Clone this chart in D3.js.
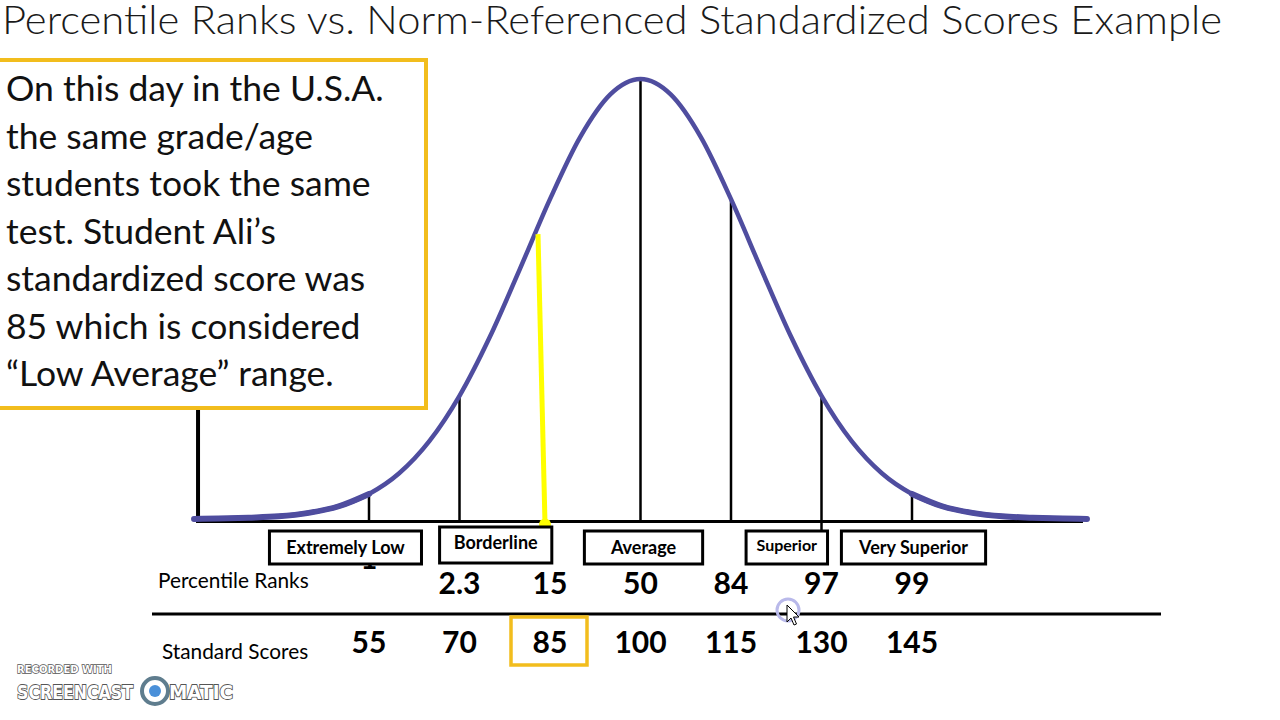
<!DOCTYPE html>
<html>
<head>
<meta charset="utf-8">
<script src="https://cdn.jsdelivr.net/npm/d3@7"></script>
<style>
  body { margin: 0; background: #fff; }
  svg { display: block; }
</style>
</head>
<body>
<div id="chart"></div>
<script>
const titleText = "Percentile Ranks vs. Norm-Referenced Standardized Scores Example";
const noteLines = [
  "On this day in the U.S.A.",
  "the same grade/age",
  "students took the same",
  "test. Student Ali\u2019s",
  "standardized score was",
  "85 which is considered",
  "\u201CLow Average\u201D range."
];
const standardScores = [55, 70, 85, 100, 115, 130, 145];
const percentileRanks = ["1", "2.3", "15", "50", "84", "97", "99"];
// bell curve: score -> height in % of the peak
const curveScores = [26, 30, 35, 40, 45, 50, 55, 60, 65, 70, 75, 80, 85, 90, 95, 100,
  105, 110, 115, 120, 125, 130, 135, 140, 145, 150, 155, 160, 165, 170, 174];
const curveHeights = [0, 0.1, 0.3, 0.6, 1.4, 2.9, 5.7, 10.4, 17.7, 28, 41.3, 56.8, 72.7, 86.8, 96.5, 100,
  96.5, 86.8, 72.7, 56.8, 41.3, 28, 17.7, 10.4, 5.7, 2.9, 1.4, 0.6, 0.3, 0.1, 0];
const categories = ["Extremely Low", "Borderline", "Average", "Superior", "Very Superior"];
const categoryFrom = [38.5, 66.7, 90.7, 117.5, 133.3];
const categoryTo = [63.7, 85.3, 110.3, 131, 157.2];
const studentScore = 85;

const width = 1280;
const height = 720;
const gold = "#f2bd1d";
const curveColor = "#4f4d9f";
const font = "Lato, 'Open Sans', sans-serif";

const svg = d3
  .select("#chart")
  .append("svg")
  .attr("width", width)
  .attr("height", height)
  .style("font-family", font);

const xScale = d3.scaleLinear().domain([55, 145]).range([369, 912]);
const yScale = d3.scaleLinear().domain([0, 100]).range([519, 79]);
const baseY = 521.5;

// title
svg
  .append("text")
  .attr("x", 2)
  .attr("y", 34)
  .attr("font-size", 40)
  .attr("font-weight", 300)
  .attr("fill", "#1a1a1a")
  .attr("textLength", 1220)
  .attr("lengthAdjust", "spacingAndGlyphs")
  .text(titleText);

// left wall of the graph
svg
  .append("line")
  .attr("x1", xScale(curveScores[0]) + 4)
  .attr("x2", xScale(curveScores[0]) + 4)
  .attr("y1", 405)
  .attr("y2", baseY + 1)
  .attr("stroke", "#000")
  .attr("stroke-width", 4);

// baseline
svg
  .append("line")
  .attr("x1", xScale(curveScores[0]) + 2)
  .attr("x2", xScale(curveScores[curveScores.length - 1]) - 4)
  .attr("y1", baseY)
  .attr("y2", baseY)
  .attr("stroke", "#000")
  .attr("stroke-width", 3);

const points = curveScores.map((s, i) => ({ score: s, h: curveHeights[i] }));
const heightAt = (s) => curveHeights[curveScores.indexOf(s)];

// marker lines under the curve
svg
  .selectAll(".marker")
  .data(standardScores.filter((s) => s !== studentScore))
  .join("line")
  .attr("class", "marker")
  .attr("x1", (d) => xScale(d))
  .attr("x2", (d) => xScale(d))
  .attr("y1", (d) => yScale(heightAt(d)))
  .attr("y2", (d) => (d === 130 ? 563 : baseY))
  .attr("stroke", "#000")
  .attr("stroke-width", 2.5);

// bell curve
const line = d3
  .line()
  .x((d) => xScale(d.score))
  .y((d) => yScale(d.h))
  .curve(d3.curveMonotoneX);

svg
  .append("path")
  .datum(points.slice(0, 7))
  .attr("fill", "none")
  .attr("stroke", curveColor)
  .attr("stroke-width", 6)
  .attr("stroke-linecap", "round")
  .attr("d", line);

svg
  .append("path")
  .datum(points.slice(points.length - 7))
  .attr("fill", "none")
  .attr("stroke", curveColor)
  .attr("stroke-width", 6)
  .attr("stroke-linecap", "round")
  .attr("d", line);

svg
  .append("path")
  .datum(points)
  .attr("fill", "none")
  .attr("stroke", curveColor)
  .attr("stroke-width", 4.5)
  .attr("stroke-linejoin", "round")
  .attr("d", line);

// the student's score
svg
  .append("line")
  .attr("x1", xScale(studentScore) - 12)
  .attr("x2", xScale(studentScore) - 5)
  .attr("y1", yScale(heightAt(studentScore)) + 35)
  .attr("y2", baseY + 2)
  .attr("stroke", "#ffff00")
  .attr("stroke-width", 5);

svg
  .append("circle")
  .attr("cx", xScale(studentScore) - 5)
  .attr("cy", baseY + 3)
  .attr("r", 6)
  .attr("fill", "#ffff00");

// percentile rank "1" partly hidden behind its box
svg
  .append("text")
  .attr("x", xScale(standardScores[0]))
  .attr("y", 569)
  .attr("text-anchor", "middle")
  .attr("font-size", 29)
  .attr("font-weight", 700)
  .text(percentileRanks[0]);

// category boxes
const boxes = svg
  .selectAll(".cat")
  .data(categories)
  .join("g")
  .attr("class", "cat");

boxes
  .append("rect")
  .attr("x", (d, i) => xScale(categoryFrom[i]))
  .attr("y", (d, i) => (i === 1 ? 527 : 531))
  .attr("width", (d, i) => xScale(categoryTo[i]) - xScale(categoryFrom[i]))
  .attr("height", (d, i) => (i === 1 ? 36 : 33))
  .attr("fill", "#fff")
  .attr("stroke", "#000")
  .attr("stroke-width", 3);

boxes
  .append("text")
  .attr("x", (d, i) => (xScale(categoryFrom[i]) + xScale(categoryTo[i])) / 2)
  .attr("y", (d, i) => (i === 1 ? 549 : i === 3 ? 551 : 554))
  .attr("text-anchor", "middle")
  .attr("font-size", (d, i) => (i === 3 ? 16 : 18))
  .attr("font-weight", 700)
  .text((d) => d);

// rows
svg
  .append("text")
  .attr("x", 158)
  .attr("y", 588)
  .attr("font-size", 20.8)
  .text("Percentile Ranks");

svg
  .append("text")
  .attr("x", 162)
  .attr("y", 659)
  .attr("font-size", 20.8)
  .text("Standard Scores");

svg
  .append("line")
  .attr("x1", 152)
  .attr("x2", 1161)
  .attr("y1", 614)
  .attr("y2", 614)
  .attr("stroke", "#000")
  .attr("stroke-width", 3);

svg
  .selectAll(".pr")
  .data(percentileRanks.slice(1))
  .join("text")
  .attr("class", "pr")
  .attr("x", (d, i) => xScale(standardScores[i + 1]))
  .attr("y", 594)
  .attr("text-anchor", "middle")
  .attr("font-size", 30)
  .attr("font-weight", 700)
  .text((d) => d);

svg
  .selectAll(".ss")
  .data(standardScores)
  .join("text")
  .attr("class", "ss")
  .attr("x", (d) => xScale(d))
  .attr("y", 653)
  .attr("text-anchor", "middle")
  .attr("font-size", 30)
  .attr("font-weight", 700)
  .text((d) => d);

svg
  .append("rect")
  .attr("x", xScale(studentScore) - 39)
  .attr("y", 617)
  .attr("width", 76)
  .attr("height", 48)
  .attr("fill", "none")
  .attr("stroke", gold)
  .attr("stroke-width", 3.5);

// note box
svg
  .append("rect")
  .attr("x", -4)
  .attr("y", 60)
  .attr("width", 430)
  .attr("height", 348)
  .attr("fill", "#fff")
  .attr("stroke", gold)
  .attr("stroke-width", 4);

svg
  .selectAll(".note")
  .data(noteLines)
  .join("text")
  .attr("class", "note")
  .attr("x", 6)
  .attr("y", (d, i) => 101 + i * 47.5)
  .attr("font-size", 35.5)
  .attr("fill", "#111")
  .text((d) => d);

// cursor
svg
  .append("circle")
  .attr("cx", 788)
  .attr("cy", 610)
  .attr("r", 11)
  .attr("fill", "none")
  .attr("stroke", "#b9b9ea")
  .attr("stroke-width", 3);

svg
  .append("path")
  .attr("transform", "translate(787,605)")
  .attr("d", "M0,0 L0,17 L4,13 L7,20 L9.5,19 L6.5,12 L12,12 Z")
  .attr("fill", "#fff")
  .attr("stroke", "#000")
  .attr("stroke-width", 1);

// recording watermark
const wm = svg.append("g").attr("font-family", "'DejaVu Sans', sans-serif").attr("font-weight", 700);
wm.append("text")
  .attr("x", 17)
  .attr("y", 673)
  .attr("font-size", 10.5)
  .attr("fill", "#fff")
  .attr("stroke", "#555")
  .attr("stroke-width", 1.4)
  .attr("paint-order", "stroke")
  .attr("textLength", 95)
  .attr("lengthAdjust", "spacingAndGlyphs")
  .text("RECORDED WITH");
wm.append("text")
  .attr("x", 17)
  .attr("y", 699)
  .attr("font-size", 19)
  .attr("fill", "#fff")
  .attr("stroke", "#555")
  .attr("stroke-width", 1.8)
  .attr("paint-order", "stroke")
  .attr("textLength", 116)
  .attr("lengthAdjust", "spacingAndGlyphs")
  .text("SCREENCAST");
wm.append("circle")
  .attr("cx", 155)
  .attr("cy", 691)
  .attr("r", 13)
  .attr("fill", "#fff")
  .attr("stroke", "#5f7d8e")
  .attr("stroke-width", 4);
wm.append("circle")
  .attr("cx", 155)
  .attr("cy", 691)
  .attr("r", 6)
  .attr("fill", "#4a90d9");
wm.append("text")
  .attr("x", 169)
  .attr("y", 699)
  .attr("font-size", 19)
  .attr("fill", "#fff")
  .attr("stroke", "#555")
  .attr("stroke-width", 1.8)
  .attr("paint-order", "stroke")
  .attr("textLength", 64)
  .attr("lengthAdjust", "spacingAndGlyphs")
  .text("MATIC");
</script>
</body>
</html>
